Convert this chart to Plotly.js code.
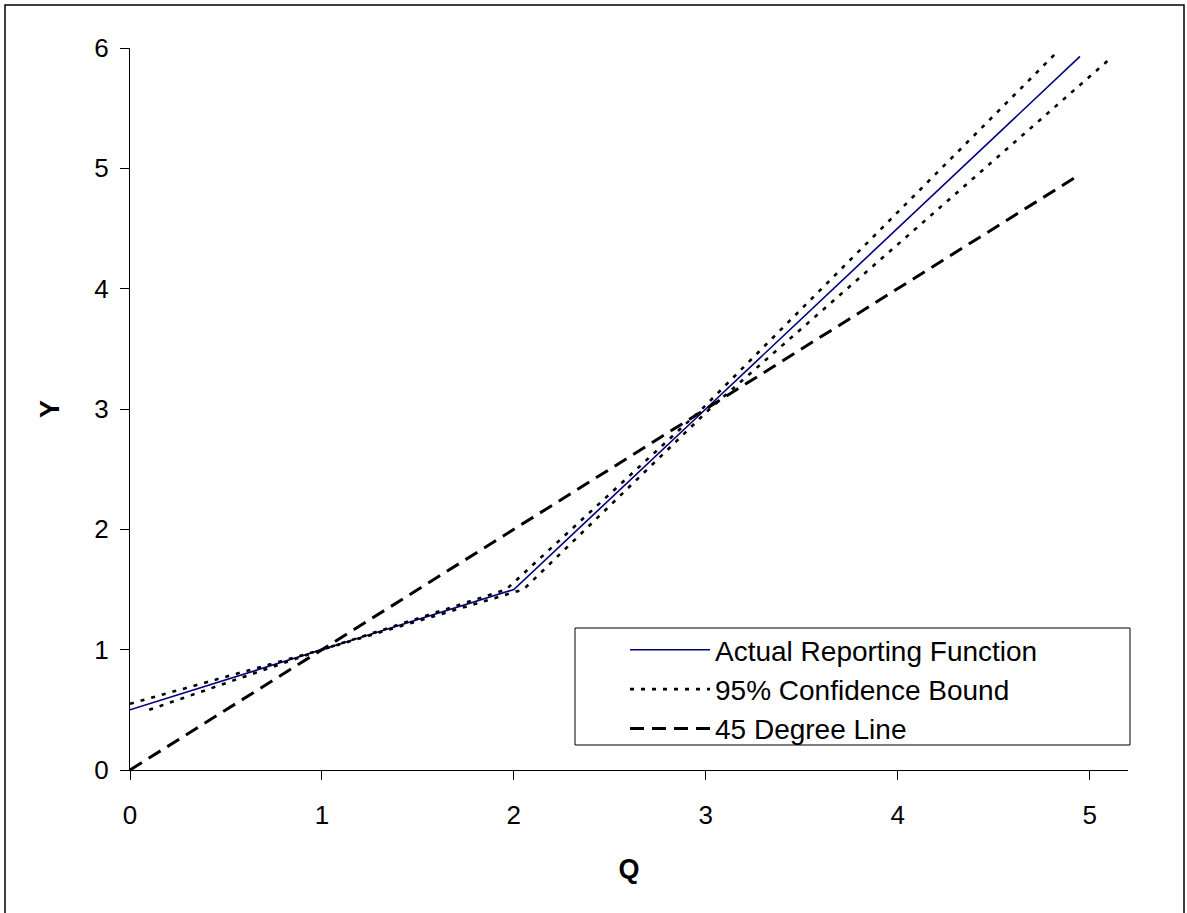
<!DOCTYPE html>
<html>
<head>
<meta charset="utf-8">
<script src="https://cdn.plot.ly/plotly-3.0.1.min.js"></script>
<style>
html,body{margin:0;padding:0;background:#fff;}
#chart{width:1187px;height:913px;}
</style>
</head>
<body>
<div id="chart"></div>
<script>
// Data
const qActual = [0, 1, 2, 3, 4.95];
const yActual = [0.5, 1, 1.5, 3, 5.93];

const qUpper = [0, 1, 1.96, 2.98, 4.82];
const yUpper = [0.55, 1, 1.5, 3, 5.95];

const qLower = [0.1, 1, 2.05, 3.02, 5.12];
const yLower = [0.5, 1, 1.5, 3, 5.93];

const q45 = [0, 1, 2, 3, 4, 4.95];
const y45 = [0, 1, 2, 3, 4, 4.95];

const xTicks = [0, 1, 2, 3, 4, 5];
const yTicks = [0, 1, 2, 3, 4, 5, 6];

const FONT = 'Liberation Sans, Arial, sans-serif';

const traces = [
  {x: qActual, y: yActual, mode: 'lines', name: 'Actual Reporting Function',
   line: {color: '#000080', width: 1.6}},
  {x: qUpper, y: yUpper, mode: 'lines', name: '95% Confidence Bound', legendgroup: 'ci',
   line: {color: '#000000', width: 2.6, dash: '4px,7px'}},
  {x: qLower, y: yLower, mode: 'lines', name: '95% Confidence Bound', legendgroup: 'ci', showlegend: false,
   line: {color: '#000000', width: 2.6, dash: '4px,7px'}},
  {x: q45, y: y45, mode: 'lines', name: '45 Degree Line',
   line: {color: '#000000', width: 3, dash: '14px,8px'}}
];

const layout = {
  width: 1187, height: 913,
  margin: {l: 130, r: 59, t: 48, b: 143},
  paper_bgcolor: '#ffffff', plot_bgcolor: '#ffffff',
  font: {family: FONT, color: '#000', size: 26},
  showlegend: true,
  legend: {
    x: (625 - 130) / 998, y: (770 - 625) / 722, xanchor: 'left', yanchor: 'top',
    bgcolor: 'rgba(0,0,0,0)', borderwidth: 0,
    font: {family: FONT, size: 28, color: '#000'},
    itemwidth: 80, traceorder: 'normal', tracegroupgap: 0
  },
  xaxis: {
    range: [0, 5.2], tickvals: xTicks, ticktext: xTicks.map(String),
    showgrid: false, zeroline: false, showline: true, linecolor: '#000', linewidth: 1,
    ticks: 'outside', ticklen: 9, tickcolor: '#000', tickwidth: 1,
    tickfont: {family: FONT, size: 26}, ticklabelstandoff: 13,
    title: {text: '<b>Q</b>', font: {family: FONT, size: 27}, standoff: 29},
    fixedrange: true
  },
  yaxis: {
    range: [0, 6], tickvals: yTicks, ticktext: yTicks.map(String),
    showgrid: false, zeroline: false, showline: true, linecolor: '#000', linewidth: 1,
    ticks: 'outside', ticklen: 9, tickcolor: '#000', tickwidth: 1,
    tickfont: {family: FONT, size: 26}, ticklabelstandoff: 6,
    title: {text: '<b>Y</b>', font: {family: FONT, size: 27}, standoff: 26},
    fixedrange: true
  },
  shapes: [
    {type: 'rect', xref: 'paper', yref: 'paper',
     x0: (575 - 130) / 998, x1: (1130 - 130) / 998,
     y0: (770 - 745) / 722, y1: (770 - 628) / 722,
     line: {color: '#000', width: 1}, fillcolor: '#ffffff', layer: 'below'},
    {type: 'rect', xref: 'paper', yref: 'paper',
     x0: (5 - 130) / 998, x1: (1184 - 130) / 998,
     y0: -0.4, y1: (770 - 5) / 722,
     line: {color: '#000', width: 1.5}, fillcolor: 'rgba(0,0,0,0)'}
  ]
};

Plotly.newPlot('chart', traces, layout, {displayModeBar: false, staticPlot: true});
</script>
</body>
</html>
